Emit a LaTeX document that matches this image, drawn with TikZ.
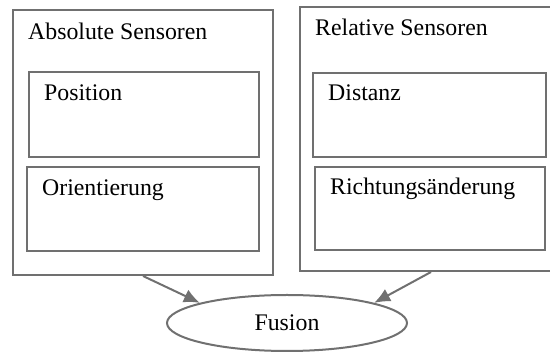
\documentclass[tikz,border=0pt]{standalone}
\usepackage{fontspec}
\setmainfont{Liberation Serif}
\usetikzlibrary{arrows.meta,shapes.geometric}
\definecolor{framegray}{RGB}{112,112,112}
\tikzstyle{group}=[draw=framegray,line width=2pt,rectangle,inner sep=0pt]
\tikzstyle{sensor}=[draw=framegray,line width=2pt,rectangle,inner sep=0pt]
\tikzstyle{caption}=[anchor=base west,inner sep=0pt,font=\fontsize{23.8}{28}\selectfont]
\tikzstyle{flow}=[draw=framegray,line width=2pt,-{Latex[length=16pt,width=14pt]}]

\begin{document}
\begin{tikzpicture}[x=1pt,y=-1pt]
                  \useasboundingbox (0,0) rectangle (550,355);

                  \node (abs) at (143,142.5) [group,minimum width=260pt,minimum height=265pt] {};
                  \node (rel) at (427,139) [group,minimum width=254pt,minimum height=264pt] {};

                  \node (pos) at (144,114.5) [sensor,minimum width=230pt,minimum height=85pt] {};
                  \node (ori) at (143,209) [sensor,minimum width=232pt,minimum height=84pt] {};
                  \node (dist) at (429.5,115) [sensor,minimum width=233pt,minimum height=84pt] {};
                  \node (dir) at (430,208.5) [sensor,minimum width=230pt,minimum height=83pt] {};

                  \node (absname) at (28,40) [caption] {Absolute Sensoren};
                  \node (relname) at (315,36) [caption] {Relative Sensoren};
                  \node (posname) at (44,101) [caption] {Position};
                  \node (oriname) at (42,196) [caption] {Orientierung};
                  \node (distname) at (328,101) [caption] {Distanz};
                  \node (dirname) at (330,195) [caption] {Richtungsänderung};

                  \node (fusion) at (287,323) [ellipse,draw=framegray,line width=2pt,
                        minimum width=240pt,minimum height=56pt,inner sep=0pt,
                        font=\fontsize{23.8}{28}\selectfont] {Fusion};

                  \draw [flow] (abs.south) -- (fusion.167);
                  \draw [flow] ([xshift=4pt]rel.south) -- (fusion.13);
              \end{tikzpicture}
\end{document}
